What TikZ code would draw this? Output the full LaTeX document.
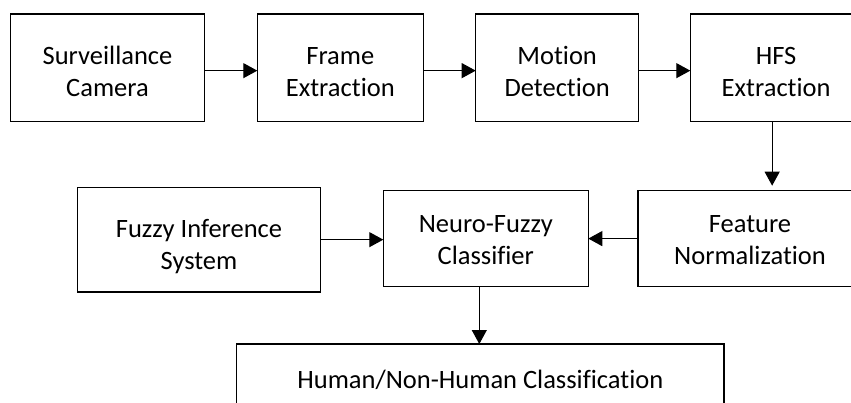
\documentclass[tikz,border=0pt]{standalone}
\usepackage{fontspec}
\setmainfont{Carlito}[Ligatures={NoCommon,NoRare,NoContextual}]
\usetikzlibrary{arrows.meta}
\newcommand\mystrutA{\rule{0pt}{20pt}}
\begin{document}
\begin{tikzpicture}[x=1pt,y=-1pt,
  box/.style={draw=black, line width=1.1pt, rectangle, inner sep=0pt, outer sep=0pt},
  lbl/.style={inner sep=0pt, anchor=north, align=center, font=\fontsize{26.5pt}{31.6pt}\selectfont, text=black},
  arr/.style={line width=1.1pt, -{Triangle[length=14pt,width=15pt]}}
]
\useasboundingbox (0,0) rectangle (851,403);
\clip (0,0) rectangle (851,403);
% boxes
\node[box, minimum width=194.4pt, minimum height=107.3pt] (cam) at (107.5,67.65) {};
\node[box, minimum width=166pt, minimum height=107.3pt] (frame) at (340.3,67.65) {};
\node[box, minimum width=163pt, minimum height=107.3pt] (motion) at (557.2,67.65) {};
\node[box, minimum width=171.7pt, minimum height=107.3pt] (hfs) at (776.15,67.65) {};
\node[box, minimum width=224pt, minimum height=95.8pt] (feat) at (750,238.6) {};
\node[box, minimum width=205pt, minimum height=95.8pt] (neuro) at (485.8,238.6) {};
\node[box, minimum width=243.4pt, minimum height=104.7pt] (fuzzy) at (199,239.65) {};
\node[box, minimum width=487.3pt, minimum height=68pt] (human) at (480.35,378) {};
% labels
\node[lbl] (camT) at ([yshift=-30.3pt]cam.north) {\mystrutA Surveillance\\Camera};
\node[lbl] (frameT) at ([yshift=-30.3pt]frame.north) {\mystrutA Frame\\Extraction};
\node[lbl] (motionT) at ([yshift=-30.3pt]motion.north) {\mystrutA Motion\\Detection};
\node[lbl] (hfsT) at ([yshift=-30.3pt]hfs.north) {\mystrutA HFS\\Extraction};
\node[lbl] (featT) at ([yshift=-21.6pt]feat.north) {\mystrutA Feature\\Normalization};
\node[lbl] (neuroT) at ([yshift=-22pt]neuro.north) {\mystrutA Neuro-Fuzzy\\Classifier};
\node[lbl] (fuzzyT) at ([yshift=-30pt]fuzzy.north) {\mystrutA Fuzzy Inference\\System};
\node[lbl] (humanT) at ([yshift=-24.3pt]human.north) {\mystrutA Human/Non-Human Classification};
% connectors
\draw[arr] ([yshift=-3pt]cam.east) -- ([yshift=-3pt]frame.west);
\draw[arr] ([yshift=-3pt]frame.east) -- ([yshift=-3pt]motion.west);
\draw[arr] ([yshift=-3pt]motion.east) -- ([yshift=-3pt]hfs.west);
\draw[arr, shorten >=5pt] ([xshift=-4pt]hfs.south) -- ([xshift=-4pt]hfs.south |- feat.north);
\draw[arr] (feat.west) -- (feat.west -| neuro.east);
\draw[arr] (fuzzy.east) -- (fuzzy.east -| neuro.west);
\draw[arr] ([xshift=-6.5pt]neuro.south) -- ([xshift=-6.5pt]neuro.south |- human.north);
\end{tikzpicture}
\end{document}
